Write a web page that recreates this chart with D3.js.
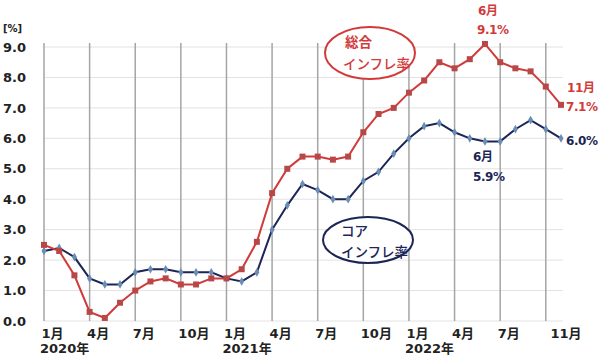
<!DOCTYPE html>
<html>
<head>
<meta charset="utf-8">
<script src="https://cdn.jsdelivr.net/npm/d3@7"></script>
<style>
body { margin: 0; background: #fff; }
text { font-family: "DejaVu Sans", "Noto Sans CJK JP", sans-serif; }
</style>
</head>
<body>
<div id="chart"></div>
<script>
var w = 600;
var h = 355;

// monthly values, Jan 2020 .. Nov 2022
var headline = [2.5, 2.3, 1.5, 0.3, 0.1, 0.6, 1.0, 1.3, 1.4, 1.2, 1.2, 1.4,
                1.4, 1.7, 2.6, 4.2, 5.0, 5.4, 5.4, 5.3, 5.4, 6.2, 6.8, 7.0,
                7.5, 7.9, 8.5, 8.3, 8.6, 9.1, 8.5, 8.3, 8.2, 7.7, 7.1];
var core = [2.3, 2.4, 2.1, 1.4, 1.2, 1.2, 1.6, 1.7, 1.7, 1.6, 1.6, 1.6,
            1.4, 1.3, 1.6, 3.0, 3.8, 4.5, 4.3, 4.0, 4.0, 4.6, 4.9, 5.5,
            6.0, 6.4, 6.5, 6.2, 6.0, 5.9, 5.9, 6.3, 6.6, 6.3, 6.0];

var yTicks = [0, 1, 2, 3, 4, 5, 6, 7, 8, 9];
var monthTickIdx = [0, 3, 6, 9, 12, 15, 18, 21, 24, 27, 30, 34];
var monthTickLabels = ["1月", "4月", "7月", "10月", "1月", "4月", "7月", "10月", "1月", "4月", "7月", "11月"];
var yearIdx = [0, 12, 24];
var yearLabels = ["2020年", "2021年", "2022年"];
var gridIdx = [0, 3, 6, 9, 12, 15, 18, 21, 24, 27, 30, 33];

var red = "#d23a3a";
var navy = "#1b2556";

var svg = d3.select("#chart")
    .append("svg")
    .attr("width", w)
    .attr("height", h);

var x = d3.scaleLinear().domain([0, 34]).range([44, 561]);
var y = d3.scaleLinear().domain([0, 9]).range([321, 47]);

// horizontal grid
svg.append("g")
    .selectAll("line")
    .data(yTicks)
    .enter().append("line")
    .attr("x1", x(0))
    .attr("x2", 563)
    .attr("y1", function(d) { return y(d); })
    .attr("y2", function(d) { return y(d); })
    .style("stroke", "#e2e2e2")
    .style("stroke-width", 1);

// vertical quarter lines
svg.append("g")
    .selectAll("line")
    .data(gridIdx)
    .enter().append("line")
    .attr("x1", function(d) { return x(d); })
    .attr("x2", function(d) { return x(d); })
    .attr("y1", 43)
    .attr("y2", y(0))
    .style("stroke", "#a5a5a5")
    .style("stroke-width", 1.5);

// y axis labels
var yAxis = d3.axisLeft(y).tickValues(yTicks).tickSize(0).tickFormat(d3.format(".1f"));
svg.append("g")
    .attr("transform", "translate(26,0)")
    .call(yAxis)
    .call(function(g) { g.select(".domain").remove(); })
    .selectAll("text")
    .attr("x", 0)
    .style("font-size", "13px")
    .style("font-weight", "bold")
    .style("fill", "#222");

svg.append("text")
    .attr("x", 3)
    .attr("y", 32)
    .text("[%]")
    .style("font-size", "10px")
    .style("font-weight", "bold")
    .style("fill", "#222");

// x axis labels
var xAxis = d3.axisBottom(x).tickValues(monthTickIdx).tickSize(0)
    .tickFormat(function(d, i) { return monthTickLabels[i]; });
svg.append("g")
    .attr("transform", "translate(0,326)")
    .call(xAxis)
    .call(function(g) { g.select(".domain").remove(); })
    .selectAll("text")
    .attr("text-anchor", "start")
    .attr("x", function(d) { return d === 34 ? -11 : -3; })
    .attr("dy", "0.71em")
    .style("font-size", "13px")
    .style("font-weight", "bold")
    .style("fill", "#222");

svg.append("g")
    .selectAll("text")
    .data(yearIdx)
    .enter().append("text")
    .attr("x", function(d) { return x(d) - 4; })
    .attr("y", 353)
    .text(function(d, i) { return yearLabels[i]; })
    .style("font-size", "13px")
    .style("font-weight", "bold")
    .style("fill", "#222");

var line = d3.line()
    .x(function(d, i) { return x(i); })
    .y(function(d) { return y(d); });

// core line
svg.append("path")
    .datum(core)
    .attr("d", line)
    .style("fill", "none")
    .style("stroke", navy)
    .style("stroke-width", 2);

svg.append("g")
    .selectAll("path")
    .data(core)
    .enter().append("path")
    .attr("d", d3.symbol().type(d3.symbolDiamond).size(22))
    .attr("transform", function(d, i) { return "translate(" + x(i) + "," + y(d) + ")"; })
    .style("fill", "#6a8db5");

// headline line
svg.append("path")
    .datum(headline)
    .attr("d", line)
    .style("fill", "none")
    .style("stroke", red)
    .style("stroke-width", 2);

svg.append("g")
    .selectAll("rect")
    .data(headline)
    .enter().append("rect")
    .attr("x", function(d, i) { return x(i) - 3; })
    .attr("y", function(d) { return y(d) - 3; })
    .attr("width", 6)
    .attr("height", 6)
    .style("fill", "#b84848");

// ellipse labels
svg.append("ellipse")
    .attr("cx", 370).attr("cy", 53).attr("rx", 45).attr("ry", 26)
    .style("fill", "#fff").style("stroke", red).style("stroke-width", 2);
svg.append("text").attr("x", 345).attr("y", 47).text("総合")
    .style("font-size", "13.5px").style("font-weight", "bold").style("fill", red);
svg.append("text").attr("x", 343).attr("y", 69).text("インフレ率")
    .style("font-size", "13.5px").style("font-weight", "500").style("fill", red);

svg.append("ellipse")
    .attr("cx", 368).attr("cy", 240).attr("rx", 45).attr("ry", 23)
    .style("fill", "#fff").style("stroke", navy).style("stroke-width", 2);
svg.append("text").attr("x", 341).attr("y", 236).text("コア")
    .style("font-size", "13.5px").style("font-weight", "500").style("fill", navy);
svg.append("text").attr("x", 341).attr("y", 257).text("インフレ率")
    .style("font-size", "13.5px").style("font-weight", "500").style("fill", navy);

// value annotations
var notes = [
    { t: "6月", x: 478, y: 15, c: red },
    { t: "9.1%", x: 477, y: 34, c: red },
    { t: "11月", x: 567, y: 92, c: red },
    { t: "7.1%", x: 566, y: 111, c: red },
    { t: "6.0%", x: 566, y: 145, c: navy },
    { t: "6月", x: 473, y: 161, c: navy },
    { t: "5.9%", x: 473, y: 181, c: navy }
];
svg.append("g")
    .selectAll("text")
    .data(notes)
    .enter().append("text")
    .attr("x", function(d) { return d.x; })
    .attr("y", function(d) { return d.y; })
    .text(function(d) { return d.t; })
    .style("font-size", "12px")
    .style("letter-spacing", "-0.4px")
    .style("font-weight", "bold")
    .style("fill", function(d) { return d.c; });
</script>
</body>
</html>
